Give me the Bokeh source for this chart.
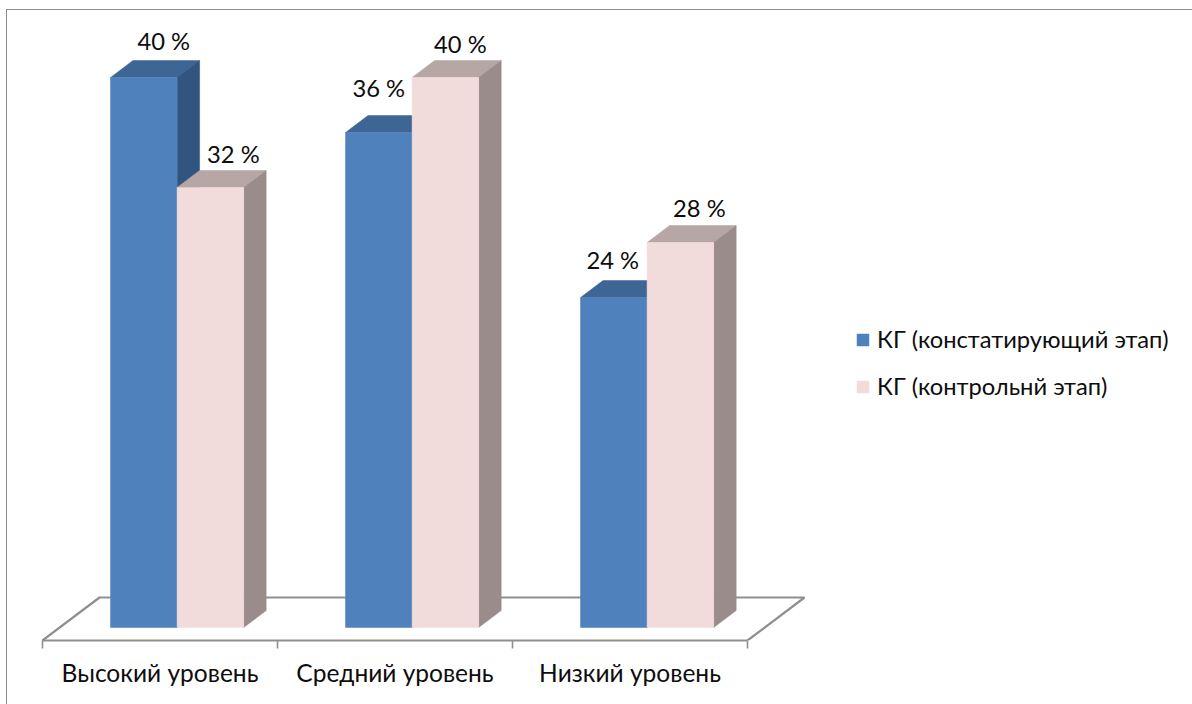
from bokeh.embed import file_html
from bokeh.resources import INLINE
from bokeh.plotting import figure
from bokeh.models import (ColumnDataSource, FixedTicker, LinearAxis, Legend, LegendItem,
                          InlineStyleSheet, Range1d)
from bokeh.core.properties import value

categories = ["Высокий уровень", "Средний уровень", "Низкий уровень"]
series_a_name = "КГ (констатирующий этап)"
series_b_name = "КГ (контрольнй этап)"
series_a = [40, 36, 24]
series_b = [32, 40, 28]

FONT = "Lato"
FS = "17.8pt"
FS_AXIS = "18.4pt"
INK = "#0d0d0d"
PX_X = 235.0    # px per category
PX_Y = 13.75    # px per percent
x_floor0, y_zero, y_axis = 42, 627, 640
W, H = 1192, 704

BAR_W = 66.6 / PX_X
BAR_START = 68 / PX_X
DX = 22.5 / PX_X
DY = 17 / PX_Y
FLOOR_DX = 57 / PX_X
FLOOR_DY = 43 / PX_Y
AXIS_Y = (y_zero - y_axis) / PX_Y

p = figure(width=W, height=H, output_backend="svg", toolbar_location=None,
           x_range=Range1d(-x_floor0 / PX_X, (W - x_floor0) / PX_X),
           y_range=Range1d(AXIS_Y, y_zero / PX_Y),
           min_border_left=0, min_border_right=0, min_border_top=0, min_border_bottom=H - y_axis,
           x_axis_type=None, y_axis_type=None, outline_line_color=None,
           background_fill_color=None, border_fill_color="white")
p.grid.visible = False

# chart border (top and left edges of the picture frame)
p.stylesheets = [InlineStyleSheet(css=""":host::before { content: ""; position: absolute;
    left: 6px; top: 9px; right: 0; bottom: 0; z-index: 10; pointer-events: none;
    border-left: 1.5px solid #8c8c8c; border-top: 1.5px solid #8c8c8c; }""")]

# floor
GRAY = "#8f8f8f"
n = len(categories)
p.line([0, FLOOR_DX, n + FLOOR_DX - 0.0, n],
       [AXIS_Y, AXIS_Y + FLOOR_DY, AXIS_Y + FLOOR_DY, AXIS_Y],
       line_color=GRAY, line_width=2.2)

# axes
ax = LinearAxis(ticker=FixedTicker(ticks=list(range(n + 1))), bounds=(0, n),
                major_label_text_font_size="0pt", major_label_text_color=None,
                major_label_standoff=0, axis_line_color=GRAY, axis_line_width=2.2,
                major_tick_line_color=GRAY, major_tick_line_width=1.6,
                major_tick_out=8, major_tick_in=0, minor_tick_line_color=None)
p.add_layout(ax, "below")
lab = LinearAxis(ticker=FixedTicker(ticks=[i + 0.5 for i in range(n)]),
                 major_label_overrides={i + 0.5: c for i, c in enumerate(categories)},
                 axis_line_color=None, major_tick_line_color=None, minor_tick_line_color=None,
                 major_tick_in=0, major_tick_out=0, major_label_standoff=9,
                 major_label_text_font=FONT, major_label_text_font_size=FS_AXIS,
                 major_label_text_color=INK)
p.add_layout(lab, "below")

def bars(vals, offset, front, top, side):
    x0 = [i + BAR_START + offset for i in range(n)]
    x1 = [x + BAR_W for x in x0]
    bottom = [0] * n
    p.patches([[a, a + DX, b + DX, b] for a, b in zip(x0, x1)],
              [[v, v + DY, v + DY, v] for v in vals], fill_color=top, line_color=top, line_width=0.5)
    p.patches([[b, b + DX, b + DX, b] for b in x1],
              [[0, DY, v + DY, v] for v in vals], fill_color=side, line_color=side, line_width=0.5)
    return p.quad(left=x0, right=x1, bottom=bottom, top=vals, fill_color=front,
                  line_color=front, line_width=0.5)

r_a = bars(series_a, 0, "#4f81bd", "#3e6695", "#31557f")
r_b = bars(series_b, BAR_W, "#f2dcdb", "#b6a7a5", "#9a8c8a")

# data labels
label_dx_a, label_dy_a = [20, 0, -1], [-37, -45, -38]
label_dx_b, label_dy_b = [23, 15, 19], [-34, -34, -35]
def labels(vals, offset, dxs, dys):
    src = ColumnDataSource(dict(x=[i + BAR_START + offset + BAR_W / 2 for i in range(n)], y=vals,
                                t=[f"{v} %" for v in vals], dx=dxs, dy=dys))
    p.text("x", "y", text="t", source=src, x_offset="dx", y_offset="dy",
           text_font=value(FONT), text_font_size=value(FS), text_color=INK,
           text_align="center", text_baseline="middle")
labels(series_a, 0, label_dx_a, label_dy_a)
labels(series_b, BAR_W, label_dx_b, label_dy_b)

legend = Legend(items=[LegendItem(label=series_a_name, renderers=[r_a]),
                       LegendItem(label=series_b_name, renderers=[r_b])],
                location=(855, 240), orientation="vertical",
                glyph_width=15, glyph_height=15, label_standoff=7, spacing=19,
                padding=0, margin=0, border_line_color=None, background_fill_alpha=0,
                label_text_font=FONT, label_text_font_size=FS, label_text_color=INK,
                label_height=24)
p.add_layout(legend, "center")

open("out.html", "w").write(file_html(p, INLINE))
